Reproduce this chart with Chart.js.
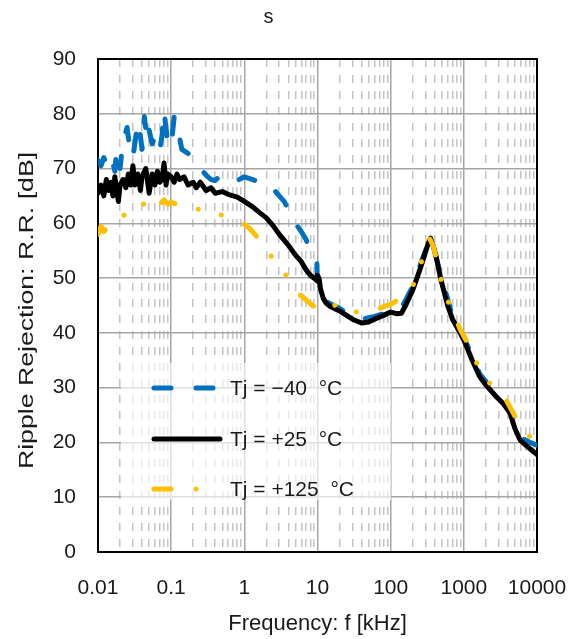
<!DOCTYPE html>
<html>
<head>
<meta charset="utf-8">
<script src="https://cdn.jsdelivr.net/npm/chart.js@4/dist/chart.umd.min.js"></script>
<style>
  body { margin: 0; background: #fff; }
  #wrap { width: 582px; height: 639px; position: relative; }
</style>
</head>
<body>
<div id="wrap"><canvas id="myChart"></canvas></div>
<script>
// ---- data ----
var chartTitle = 's';
var xTitle = 'Frequency: f [kHz]';
var yTitle = 'Ripple Rejection: R.R. [dB]';
var xTickLabels = ['0.01', '0.1', '1', '10', '100', '1000', '10000'];
var seriesLabels = ['Tj = \u221240  \u00b0C', 'Tj = +25  \u00b0C', 'Tj = +125  \u00b0C'];

// Tj = -40
var freqCold = [0.01, 0.011, 0.012, 0.013, 0.014, 0.016, 0.017, 0.018, 0.02, 0.022, 0.025, 0.027, 0.03, 0.033, 0.036, 0.04, 0.043, 0.047, 0.05, 0.055, 0.06, 0.065, 0.07, 0.075, 0.08, 0.09, 0.1, 0.11, 0.12, 0.14, 0.16, 0.18, 0.2, 0.25, 0.3, 0.35, 0.4, 0.45, 0.5, 0.6, 0.7, 0.8, 1, 1.3, 1.6, 2, 2.3, 2.6, 3, 3.5, 4, 5, 6, 7, 8, 9, 9.8, 10, 11, 12, 14, 20, 30, 40, 60, 80, 100, 140, 200, 280, 340, 400, 480, 550, 700, 1000, 1650, 2800, 4300, 5900, 8000, 10000];
var rrCold = [71.5, 70.5, 72, 71, 72.5, 71, 69.5, 73.5, 70, 75, 77.5, 74, 72, 76, 78.5, 73.5, 79.5, 75, 77, 74.5, 76, 74, 73.5, 76, 80.5, 74.5, 74, 79.5, 78, 73.5, 73, 72.5, 71.5, 70, 68.8, 68, 67.8, 68.5, 68.3, 68.3, 67.5, 67.8, 68.5, 68, 67.5, 67.3, 67, 66, 65, 64, 62.5, 60, 58.5, 57, 55, 53.5, 53, 48.5, 47, 46.5, 45.5, 44.5, 43, 42.5, 43, 43.5, 44, 44.5, 48.5, 54, 57, 55, 50.5, 48, 43, 39.2, 32.5, 28.8, 25.7, 21, 20, 19.5];

// Tj = +25
var freqRoom = [0.01, 0.011, 0.012, 0.013, 0.014, 0.015, 0.016, 0.017, 0.018, 0.019, 0.02, 0.022, 0.024, 0.026, 0.028, 0.03, 0.032, 0.035, 0.038, 0.04, 0.045, 0.05, 0.055, 0.06, 0.065, 0.07, 0.075, 0.08, 0.085, 0.09, 0.1, 0.11, 0.12, 0.13, 0.15, 0.17, 0.2, 0.22, 0.25, 0.3, 0.35, 0.4, 0.5, 0.6, 0.8, 1, 1.3, 1.6, 2, 2.5, 3, 4, 5, 6, 7, 8, 9, 9.8, 10, 10.5, 11, 12, 13, 15, 20, 30, 40, 50, 60, 80, 100, 120, 140, 160, 200, 250, 280, 320, 350, 380, 420, 480, 530, 600, 700, 850, 1000, 1300, 1650, 2000, 2800, 3500, 4300, 5000, 5900, 7000, 9000, 10000];
var rrRoom = [65.5, 67, 65, 68, 66, 67.5, 65, 68.5, 66, 64, 67, 68, 66.5, 69, 67, 70.5, 67, 69, 66, 68.5, 70, 65.5, 69, 67, 69.5, 67.5, 68, 71, 67, 69, 68.5, 67.5, 69, 68, 68.5, 67, 67.5, 66.5, 67.5, 66, 66.5, 65.5, 65.8, 65.3, 64.8, 64, 63, 62, 61, 59.5, 58, 56, 54.2, 53, 51.5, 50.5, 50, 49.5, 50.5, 50, 48, 46.3, 45.5, 44.8, 44, 42.5, 41.8, 42, 42.5, 43.2, 43.8, 43.5, 43.6, 45, 47.8, 51.5, 53.5, 56, 57.3, 56, 53.8, 50, 47.8, 45, 42.5, 40.5, 38.7, 35, 32, 30.5, 28.3, 27, 25.3, 22.5, 20.4, 19.5, 18.3, 17.8];

// Tj = +125
var freqHot = [0.01, 0.011, 0.012, 0.015, 0.02, 0.022, 0.025, 0.028, 0.032, 0.038, 0.042, 0.045, 0.05, 0.06, 0.07, 0.08, 0.09, 0.1, 0.12, 0.15, 0.2, 0.25, 0.3, 0.4, 0.5, 0.6, 0.8, 1, 1.2, 1.5, 1.8, 2.2, 2.6, 3, 3.5, 4.5, 5.5, 7, 8.5, 10, 11, 12, 14, 17, 20, 30, 40, 60, 80, 100, 150, 200, 250, 300, 340, 380, 440, 500, 600, 720, 900, 1200, 1500, 1820, 2500, 3800, 5000, 6000, 8000, 10000];
var rrHot = [58, 59.5, 58.5, 60, 60.5, 61.3, 62, 61.8, 62.5, 63, 63.5, 62.5, 63, 63.8, 63.5, 64.3, 63.5, 63.8, 63.5, 63.7, 62.8, 62.5, 62.5, 61.8, 61.5, 61.3, 60.5, 59.8, 59, 57.5, 56, 54.5, 53, 52, 51, 49, 47.2, 46, 45, 44.5, 45, 45.2, 44.5, 45, 45.4, 44, 43.6, 44, 44.8, 45.2, 46.6, 48.5, 52, 55.5, 57.2, 56, 52.5, 49, 46, 43.6, 40.5, 37.5, 34.5, 32.6, 30, 27.7, 24.8, 23.5, 21, 19.8];

var FONT = "'Liberation Sans', Arial, sans-serif";
var TEXT = '#1a1a1a';

function pts(xs, ys) {
  return xs.map(function (x, i) { return { x: x, y: ys[i] }; });
}

// x ticks: every 1..9 x 10^n, labels only on the decades
function isDecade(v) {
  var l = Math.log10(v);
  return Math.abs(l - Math.round(l)) < 1e-9;
}

// legend drawn inside the plot, lower left, on a pale box
var insideLegend = {
  id: 'insideLegend',
  afterDatasetsDraw: function (chart) {
    var ctx = chart.ctx;
    var a = chart.chartArea;
    ctx.save();
    ctx.fillStyle = 'rgba(255,255,255,0.65)';
    ctx.fillRect(a.left + 23, a.top + 304, 270, 137);
    var rows = [329, 380, 430];
    chart.data.datasets.forEach(function (ds, i) {
      var y = a.top + rows[i];
      ctx.strokeStyle = ds.borderColor;
      ctx.lineWidth = ds.borderWidth;
      ctx.lineCap = 'round';
      ctx.setLineDash(ds.borderDash || []);
      ctx.beginPath();
      ctx.moveTo(a.left + 56, y);
      ctx.lineTo(a.left + 122, y);
      ctx.stroke();
      ctx.setLineDash([]);
      ctx.fillStyle = TEXT;
      ctx.font = '21px ' + FONT;
      ctx.textBaseline = 'middle';
      ctx.fillText(seriesLabels[i], a.left + 132, y + 1);
    });
    ctx.restore();
  }
};

// black frame round the plot area + the long y title
var frame = {
  id: 'frame',
  beforeDatasetsDraw: function (chart) {
    var a = chart.chartArea;
    var ctx = chart.ctx;
    ctx.save();
    ctx.strokeStyle = '#000';
    ctx.lineWidth = 2;
    ctx.strokeRect(a.left, a.top, a.right - a.left, a.bottom - a.top);
    ctx.restore();
  },
  afterDraw: function (chart) {
    var a = chart.chartArea;
    var ctx = chart.ctx;
    ctx.save();
    ctx.translate(27, (a.top + a.bottom) / 2 + 5);
    ctx.rotate(-Math.PI / 2);
    ctx.scale(1.27, 1);
    ctx.font = '21px ' + FONT;
    ctx.fillStyle = TEXT;
    ctx.textAlign = 'center';
    ctx.textBaseline = 'middle';
    ctx.fillText(yTitle, 0, 0);
    ctx.restore();
  }
};

var ctx = document.getElementById('myChart').getContext('2d');
var chart = new Chart(ctx, {
  type: 'scatter',
  data: {
    datasets: [{
      label: seriesLabels[0],
      data: pts(freqCold, rrCold),
      showLine: true,
      borderColor: '#0070C0',
      borderWidth: 5,
      borderDash: [17, 25],
      borderCapStyle: 'round',
      borderJoinStyle: 'round',
      pointRadius: 0,
      order: 2
    }, {
      label: seriesLabels[1],
      data: pts(freqRoom, rrRoom),
      showLine: true,
      borderColor: '#000000',
      borderWidth: 5,
      borderCapStyle: 'round',
      borderJoinStyle: 'round',
      pointRadius: 0,
      order: 1
    }, {
      label: seriesLabels[2],
      data: pts(freqHot, rrHot),
      showLine: true,
      borderColor: '#FFC000',
      borderWidth: 5,
      borderDash: [17, 25, 0.01, 24, 0.01, 25],
      borderCapStyle: 'round',
      borderJoinStyle: 'round',
      pointRadius: 0,
      order: 0
    }]
  },
  options: {
    responsive: true,
    maintainAspectRatio: false,
    animation: false,
    layout: { padding: { left: 0, right: 45, top: 0, bottom: 0 } },
    plugins: {
      legend: { display: false },
      tooltip: { enabled: false },
      title: {
        display: true,
        text: chartTitle,
        color: TEXT,
        font: { family: FONT, size: 20, weight: 'normal' },
        padding: { top: 5, bottom: 30 }
      }
    },
    scales: {
      x: {
        type: 'logarithmic',
        min: 0.01,
        max: 10000,
        afterFit: function (s) { s.height = 87; s.paddingLeft = 0; s.paddingRight = 0; },
        afterBuildTicks: function (s) {
          var t = [];
          for (var e = -2; e < 4; e++) {
            for (var m = 1; m < 10; m++) t.push({ value: m * Math.pow(10, e) });
          }
          t.push({ value: 10000 });
          s.ticks = t;
        },
        ticks: {
          autoSkip: false,
          maxRotation: 0,
          padding: 24,
          color: TEXT,
          font: { family: FONT, size: 21 },
          callback: function (v) {
            if (!isDecade(v)) return '';
            return xTickLabels[Math.round(Math.log10(v)) + 2];
          }
        },
        grid: {
          drawTicks: false,
          color: function (c) {
            if (!c.tick) return '#a6a6a6';
            return isDecade(c.tick.value) ? '#a6a6a6' : '#c4c4c4';
          },
          lineWidth: 1.5
        },
        border: {
          display: false,
          dash: function (c) {
            if (!c.tick) return [];
            return isDecade(c.tick.value) ? [] : [8, 8];
          }
        },
        title: {
          display: true,
          text: xTitle,
          color: TEXT,
          font: { family: FONT, size: 22 },
          padding: { top: 0, bottom: 2 }
        }
      },
      y: {
        min: 0,
        max: 90,
        afterFit: function (s) { s.width = 98; s.paddingTop = 0; s.paddingBottom = 0; },
        ticks: {
          stepSize: 10,
          padding: 22,
          color: TEXT,
          font: { family: FONT, size: 21 }
        },
        grid: { drawTicks: false, color: '#a6a6a6', lineWidth: 1.5 },
        border: { display: false },
        title: { display: false }
      }
    }
  },
  plugins: [frame, insideLegend]
});
</script>
</body>
</html>
